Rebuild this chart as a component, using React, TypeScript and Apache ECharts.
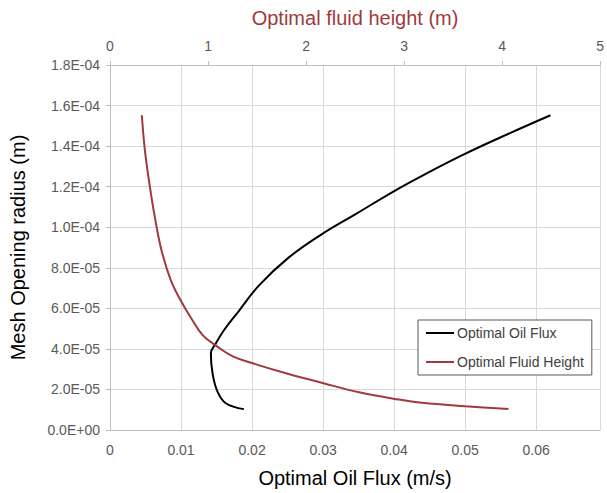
import React, { useEffect, useRef } from "react";
import * as echarts from "echarts";

// Optimal Oil Flux (m/s) vs Mesh Opening radius (m)
const oilFlux: number[] = [
  0.01885, 0.0163, 0.01513, 0.01443, 0.0142, 0.0149, 0.01606, 0.01816, 0.02095,
  0.02514, 0.02979, 0.03446, 0.0402, 0.04505, 0.04982, 0.05447, 0.06201,
];
const oilRadius: number[] = [
  1.03e-5, 1.32e-5, 1.89e-5, 2.81e-5, 3.78e-5, 4.27e-5, 4.93e-5, 5.88e-5, 7.12e-5,
  8.5e-5, 9.65e-5, 1.062e-4, 1.182e-4, 1.274e-4, 1.359e-4, 1.435e-4, 1.552e-4,
];

// Optimal fluid height (m) vs Mesh Opening radius (m)
const fluidHeight: number[] = [
  0.325, 0.356, 0.407, 0.457, 0.525, 0.62, 0.72, 0.83, 0.945, 1.084, 1.253, 1.456,
  1.796, 2.178, 2.541, 2.947, 3.184, 3.625, 4.065,
];
const fluidRadius: number[] = [
  1.552e-4, 1.379e-4, 1.199e-4, 1.051e-4, 8.87e-5, 7.39e-5, 6.4e-5, 5.5e-5, 4.68e-5,
  4.15e-5, 3.63e-5, 3.29e-5, 2.8e-5, 2.31e-5, 1.86e-5, 1.5e-5, 1.34e-5, 1.17e-5,
  1.03e-5,
];

const seriesNames = ["Optimal Oil Flux", "Optimal Fluid Height"];
const axisTitles = {
  bottom: "Optimal Oil Flux (m/s)",
  top: "Optimal fluid height (m)",
  left: "Mesh Opening radius (m)",
};

const FONT = "Liberation Sans, Arial, sans-serif";

function sci(v: number): string {
  if (v === 0) return "0.0E+00";
  const [m, e] = v.toExponential(1).split("e");
  const n = parseInt(e, 10);
  const sign = n < 0 ? "-" : "+";
  const abs = Math.abs(n);
  return `${m}E${sign}${abs < 10 ? "0" + abs : abs}`;
}

export default function App() {
  const ref = useRef<HTMLDivElement>(null);
  useEffect(() => {
    if (!ref.current) return;
    const chart = echarts.init(ref.current, undefined, { renderer: "svg" });
    const labelStyle = { color: "#595959", fontSize: 14, fontFamily: FONT };
    chart.setOption({
      animation: false,
      backgroundColor: "#ffffff",
      grid: { left: 110, right: 5, top: 65, bottom: 63, containLabel: false },
      legend: {
        orient: "vertical",
        left: 418,
        top: 320,
        padding: [6, 8, 6, 8],
        itemGap: 15,
        itemWidth: 28,
        itemHeight: 2,
        icon: "rect",
        borderColor: "#595959",
        borderWidth: 1,
        backgroundColor: "#ffffff",
        textStyle: { color: "#404040", fontSize: 14, fontFamily: FONT, padding: [0, 0, 0, -2] },
        data: seriesNames,
      },
      xAxis: [
        {
          type: "value",
          position: "bottom",
          min: 0,
          max: 0.069,
          interval: 0.01,
          name: axisTitles.bottom,
          nameLocation: "middle",
          nameGap: 38,
          nameTextStyle: { color: "#000000", fontSize: 20, fontFamily: FONT },
          axisLine: { show: true, lineStyle: { color: "#bfbfbf", width: 1 } },
          axisTick: { show: false },
          axisLabel: { ...labelStyle, margin: 13, showMaxLabel: false },
          splitLine: { show: true, lineStyle: { color: "#d9d9d9", width: 1 } },
        },
        {
          type: "value",
          position: "top",
          min: 0,
          max: 5,
          interval: 1,
          name: axisTitles.top,
          nameLocation: "middle",
          nameGap: 37,
          nameTextStyle: { color: "#A03A3C", fontSize: 20, fontFamily: FONT },
          axisLine: { show: true, lineStyle: { color: "#bfbfbf", width: 1 } },
          axisTick: { show: true, length: 4, lineStyle: { color: "#bfbfbf" } },
          axisLabel: { ...labelStyle, margin: 12 },
          splitLine: { show: false },
        },
      ],
      yAxis: {
        type: "value",
        min: 0,
        max: 1.8e-4,
        interval: 2e-5,
        name: axisTitles.left,
        nameLocation: "middle",
        nameRotate: 90,
        nameGap: 82,
        nameTextStyle: { color: "#000000", fontSize: 20, fontFamily: FONT },
        axisLine: { show: true, lineStyle: { color: "#bfbfbf", width: 1 } },
        axisTick: { show: true, length: 4, inside: false, lineStyle: { color: "#bfbfbf" } },
        axisLabel: { ...labelStyle, margin: 10, formatter: (v: number) => sci(v) },
        splitLine: { show: true, lineStyle: { color: "#d9d9d9", width: 1 } },
      },
      series: [
        {
          name: seriesNames[0],
          type: "line",
          xAxisIndex: 0,
          yAxisIndex: 0,
          smooth: 0.4,
          showSymbol: false,
          symbol: "none",
          lineStyle: { color: "#000000", width: 2 },
          itemStyle: { color: "#000000" },
          data: oilFlux.map((x, i) => [x, oilRadius[i]]),
        },
        {
          name: seriesNames[1],
          type: "line",
          xAxisIndex: 1,
          yAxisIndex: 0,
          smooth: 0.4,
          showSymbol: false,
          symbol: "none",
          lineStyle: { color: "#A03A3C", width: 2 },
          itemStyle: { color: "#A03A3C" },
          data: fluidHeight.map((x, i) => [x, fluidRadius[i]]),
        },
      ],
    });
    return () => chart.dispose();
  }, []);
  return (
    <div
      ref={ref}
      style={{ position: "absolute", left: 0, top: 0, width: 607, height: 493 }}
    />
  );
}
